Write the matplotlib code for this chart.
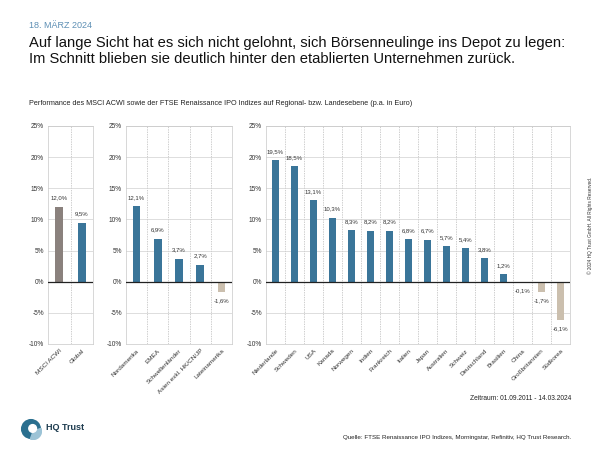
import matplotlib.pyplot as plt
from matplotlib.patches import Circle, Wedge
import numpy as np

plt.rcParams["font.family"] = ["Liberation Sans", "DejaVu Sans"]

# Daten
cat_world = ["MSCI ACWI", "Global"]
val_world = [12.0, 9.5]

cat_region = ["Nordamerika", "EMEA", "Schwellenländer", "Asien exkl. HK/CN/JP", "Lateinamerika"]
val_region = [12.1, 6.9, 3.7, 2.7, -1.6]

cat_country = ["Niederlande", "Schweden", "USA", "Kanada", "Norwegen", "Indien", "Frankreich",
               "Italien", "Japan", "Australien", "Schweiz", "Deutschland", "Brasilien", "China",
               "Großbritannien", "Südkorea"]
val_country = [19.5, 18.5, 13.1, 10.3, 8.3, 8.2, 8.2, 6.8, 6.7, 5.7, 5.4, 3.8, 1.2, -0.1, -1.7, -6.1]

yticks = [-10, -5, 0, 5, 10, 15, 20, 25]

BLUE = "#3a7599"
GRAY = "#8a817d"
BEIGE = "#cbbfae"

W, H = 600, 450
fig = plt.figure(figsize=(6, 4.5), dpi=100)


def ax_px(x0, x1, y0, y1):
    return fig.add_axes([x0 / W, 1 - y1 / H, (x1 - x0) / W, (y1 - y0) / H])


def panel(ax, cats, vals, first_gray=False):
    n = len(cats)
    x = np.arange(n)
    colors = []
    for i, v in enumerate(vals):
        if first_gray and i == 0:
            colors.append(GRAY)
        elif v < 0:
            colors.append(BEIGE)
        else:
            colors.append(BLUE)
    ax.bar(x, vals, width=0.35, color=colors, zorder=3)
    for xi, v in zip(x, vals):
        lbl = f"{v:.1f}%".replace(".", ",")
        if v >= 0:
            ax.text(xi, v + 1.0, lbl, ha="center", va="bottom", fontsize=4.3, color="#333333")
        else:
            ax.text(xi, v - 1.0, lbl, ha="center", va="top", fontsize=4.3, color="#333333")
    ax.set_xlim(-0.5, n - 0.5)
    ax.set_ylim(-10, 25)
    ax.set_yticks(yticks)
    ax.set_yticklabels([f"{t}%" for t in yticks], fontsize=4.7, color="#333333")
    ax.set_xticks(x)
    ax.set_xticklabels(cats, rotation=45, ha="right", rotation_mode="anchor", fontsize=4.6, color="#333333")
    ax.tick_params(length=0, pad=3)
    for b in np.arange(0.5, n - 0.5, 1):
        ax.axvline(b, color="#bbbbbb", lw=0.5, ls=(0, (2, 1.5)), zorder=1)
    ax.grid(axis="y", color="#d0d0d0", lw=0.5, zorder=1)
    ax.axhline(0, color="#222222", lw=0.9, zorder=4)
    for s in ax.spines.values():
        s.set_color("#c8c8c8")
        s.set_linewidth(0.5)


ax1 = ax_px(48, 93, 126, 344)
panel(ax1, cat_world, val_world, first_gray=True)
ax2 = ax_px(126, 232, 126, 344)
panel(ax2, cat_region, val_region)
ax3 = ax_px(266, 570, 126, 344)
panel(ax3, cat_country, val_country)

fig.text(29 / W, 1 - 26 / H, "18. MÄRZ 2024", fontsize=6.5, color="#5d8fb4", va="center")
fig.text(29 / W, 1 - 51 / H, "Auf lange Sicht hat es sich nicht gelohnt, sich Börsenneulinge ins Depot zu legen:\n"
         "Im Schnitt blieben sie deutlich hinter den etablierten Unternehmen zurück.",
         fontsize=10.6, color="#111111", va="center", linespacing=1.15)
fig.text(29 / W, 1 - 104 / H, "Performance des MSCI ACWI sowie der FTSE Renaissance IPO Indizes auf Regional- bzw. "
         "Landesebene (p.a. in Euro)", fontsize=5.2, color="#222222", va="center")
fig.text(571 / W, 1 - 399 / H, "Zeitraum: 01.09.2011 - 14.03.2024", fontsize=4.8, color="#222222",
         ha="right", va="center")
fig.text(571 / W, 1 - 437 / H, "Quelle: FTSE Renaissance IPO Indizes, Morningstar, Refinitiv, HQ Trust Research.",
         fontsize=4.5, color="#222222", ha="right", va="center")
fig.text(590 / W, 1 - 225 / H, "© 2024 HQ Trust GmbH. All Rights Reserved.", fontsize=3.4, color="#333333",
         rotation=90, ha="center", va="center")

# Logo
lax = fig.add_axes([20 / W, 1 - 440 / H, 22 / W, 22 / H])
lax.set_xlim(-1, 1)
lax.set_ylim(-1, 1)
lax.set_aspect("equal")
lax.axis("off")
lax.add_patch(Circle((0, 0), 0.85, color="#2a6f8f"))
lax.add_patch(Wedge((0.2, -0.2), 0.75, 250, 20, color="#9cc3d6"))
lax.add_patch(Circle((0.15, 0.05), 0.35, color="white"))
fig.text(46 / W, 1 - 427 / H, "HQ Trust", fontsize=6.5, fontweight="bold", color="#1d3b4f", va="center")

fig.savefig("out.png", dpi=100)
